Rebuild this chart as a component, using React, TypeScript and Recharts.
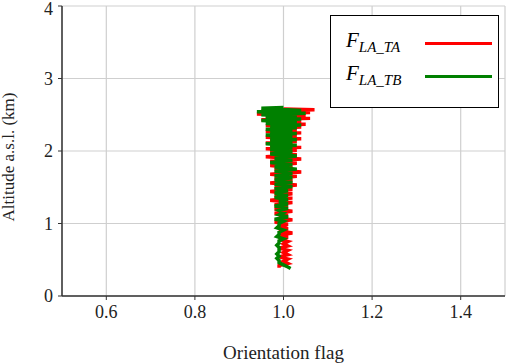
import { ScatterChart, Scatter, XAxis, YAxis, CartesianGrid, Legend } from 'recharts';

const xTicks = [0.6, 0.8, 1.0, 1.2, 1.4];
const yTicks = [0, 1, 2, 3, 4];

// F_LA_TA (red)
const taAltitude = [
  2.58, 2.57, 2.55, 2.53, 2.51, 2.49, 2.47, 2.45, 2.43, 2.41, 2.39, 2.37, 2.35, 2.33, 2.31,
  2.29, 2.27, 2.25, 2.23, 2.21, 2.19, 2.17, 2.15, 2.13, 2.11, 2.09, 2.07, 2.05, 2.03, 2.01,
  1.98, 1.95, 1.92, 1.89, 1.86, 1.83, 1.8, 1.77, 1.74, 1.71, 1.68, 1.65, 1.62, 1.59, 1.56,
  1.53, 1.5, 1.47, 1.44, 1.41,
  1.38, 1.35, 1.32, 1.29, 1.26, 1.23, 1.2, 1.17, 1.14, 1.11, 1.08, 1.05, 1.02, 0.99,
  0.96, 0.93, 0.9, 0.87, 0.84, 0.81, 0.78, 0.75, 0.72, 0.69, 0.66, 0.63, 0.6, 0.57, 0.54,
  0.51, 0.48, 0.45, 0.42, 0.39,
];
const taFlag = [
  1.0, 1.07, 0.95, 1.06, 0.94, 1.05, 0.96, 1.06, 0.95, 1.04, 0.97, 1.05, 0.96, 1.04, 0.97,
  1.03, 0.96, 1.04, 0.97, 1.03, 0.96, 1.04, 0.97, 1.03, 0.96, 1.02, 0.97, 1.04, 0.96, 1.03,
  0.97, 1.03, 0.96, 1.04, 0.97, 1.03, 0.97, 1.02, 0.98, 1.04, 0.97, 1.03, 0.98, 1.02, 0.97,
  1.03, 0.98, 1.02, 0.97, 1.02,
  0.98, 1.02, 0.97, 1.02, 0.98, 1.01, 0.98, 1.02, 0.98, 1.01, 0.99, 1.02, 0.98, 1.01,
  0.99, 1.01, 0.99, 1.02, 0.99, 1.01, 0.99, 1.01, 1.0, 1.01, 0.99, 1.01, 1.0, 1.01, 0.99,
  1.01, 1.0, 1.01, 0.99, 0.99,
];

// F_LA_TB (green)
const tbAltitude = [
  2.6, 2.59, 2.56, 2.54, 2.52, 2.5, 2.48, 2.46, 2.44, 2.42, 2.4, 2.38, 2.36, 2.34, 2.32,
  2.3, 2.28, 2.26, 2.24, 2.22, 2.2, 2.18, 2.16, 2.14, 2.12, 2.1, 2.08, 2.06, 2.04, 2.02,
  1.99, 1.96, 1.93, 1.9, 1.87, 1.84, 1.81, 1.78, 1.75, 1.72, 1.69, 1.66, 1.63, 1.6, 1.57,
  1.54, 1.51, 1.48, 1.45, 1.42,
  1.39, 1.36, 1.33, 1.3, 1.27, 1.24, 1.21, 1.18, 1.15, 1.12, 1.09, 1.06, 1.03, 1.0,
  0.97, 0.94, 0.91, 0.88, 0.85, 0.82, 0.79, 0.76, 0.73, 0.7, 0.67, 0.64, 0.61, 0.58, 0.55,
  0.52, 0.49, 0.46, 0.43, 0.4, 0.38,
];
const tbFlag = [
  1.0, 0.95, 1.04, 0.94, 1.05, 0.95, 1.03, 0.96, 1.04, 0.95, 1.03, 0.96, 1.04, 0.97, 1.03,
  0.96, 1.02, 0.97, 1.03, 0.96, 1.02, 0.97, 1.03, 0.97, 1.02, 0.96, 1.03, 0.97, 1.02, 0.97,
  1.02, 0.97, 1.03, 0.98, 1.02, 0.97, 1.02, 0.98, 1.03, 0.98, 1.02, 0.98, 1.02, 0.98, 1.02,
  0.98, 1.02, 0.98, 1.01, 0.98,
  1.01, 0.98, 1.01, 0.99, 1.01, 0.98, 1.01, 0.99, 1.0, 0.99, 1.01, 0.98, 1.0, 0.99,
  0.99, 0.985, 1.0, 0.99, 0.99, 0.985, 1.0, 0.99, 0.99, 0.985, 0.99, 0.99, 0.99, 0.985, 0.99,
  0.985, 0.99, 0.99, 1.0, 1.01, 1.016,
];

const taData = taAltitude.map((alt, i) => ({ alt, flag: taFlag[i] }));
const tbData = tbAltitude.map((alt, i) => ({ alt, flag: tbFlag[i] }));

const font = 'Liberation Serif';
const textColor = '#222';

const legendItems = [
  { sub: 'LA_TA', color: '#ff0000' },
  { sub: 'LA_TB', color: '#008000' },
];

function LegendBox() {
  return (
    <div
      style={{
        width: 169,
        height: 93,
        border: '1.5px solid #000',
        background: '#fff',
        boxSizing: 'border-box',
        paddingTop: 11,
      }}
    >
      {legendItems.map((it) => (
        <div key={it.sub} style={{ display: 'flex', alignItems: 'center', height: 33 }}>
          <span style={{ fontFamily: font, fontStyle: 'italic', fontSize: 21, width: 79, paddingLeft: 15, color: '#000', lineHeight: '24px' }}>
            F<sub style={{ fontSize: 15 }}>{it.sub}</sub>
          </span>
          <span style={{ display: 'inline-block', width: 67, height: 3, background: it.color }} />
        </div>
      ))}
    </div>
  );
}

const XTick = (props: any) => (
  <text x={props.x} y={props.y} dy="0.75em" textAnchor="middle" fontFamily={font} fontSize={18} fill={textColor}>
    {Number(props.payload.value).toFixed(1)}
  </text>
);

const YTick = (props: any) => (
  <text x={props.x} y={props.y} dy="0.35em" textAnchor="end" fontFamily={font} fontSize={18} fill={textColor}>
    {props.payload.value}
  </text>
);

const XLabel = (props: any) => {
  const vb = props.viewBox;
  return (
    <text x={vb.x + vb.width / 2} y={359} textAnchor="middle" fontFamily={font} fontSize={19} fill={textColor}>
      Orientation flag
    </text>
  );
};

const YLabel = (props: any) => {
  const vb = props.viewBox;
  const cy = vb.y + vb.height / 2 + 6;
  return (
    <text x={14} y={cy} transform={`rotate(-90 14 ${cy})`} textAnchor="middle" fontFamily={font} fontSize={17} fill={textColor}>
      Altitude a.s.l. (km)
    </text>
  );
};

const noDot = () => <g />;

export default function App() {
  return (
    <div style={{ position: 'absolute', left: 0, top: 0, background: '#fff' }}>
      <ScatterChart width={509} height={364} margin={{ top: 6, right: 4, left: 0, bottom: 0 }}>
        <CartesianGrid stroke="#cfcfcf" strokeWidth={1.2} />
        <XAxis
          xAxisId="top"
          orientation="top"
          type="number"
          dataKey="flag"
          domain={[0.5, 1.5]}
          height={0}
          tick={false}
          tickLine={false}
          axisLine={{ stroke: '#333', strokeWidth: 1.5 }}
        />
        <YAxis
          yAxisId="right"
          orientation="right"
          type="number"
          dataKey="alt"
          domain={[0, 4]}
          width={0}
          tick={false}
          tickLine={false}
          axisLine={{ stroke: '#333', strokeWidth: 1.5 }}
        />
        <XAxis
          type="number"
          dataKey="flag"
          domain={[0.5, 1.5]}
          ticks={xTicks}
          height={68}
          tick={XTick}
          tickSize={4}
          tickMargin={4}
          stroke="#333"
          axisLine={{ stroke: '#333', strokeWidth: 1.5 }}
          label={{ content: XLabel }}
        />
        <YAxis
          type="number"
          dataKey="alt"
          domain={[0, 4]}
          ticks={yTicks}
          width={62}
          tick={YTick}
          tickSize={4}
          tickMargin={5}
          stroke="#333"
          axisLine={{ stroke: '#333', strokeWidth: 1.5 }}
          label={{ content: YLabel }}
        />
        <Scatter
          name="F_LA_TA"
          data={taData}
          shape={noDot}
          line={{ stroke: '#ff0000', strokeWidth: 3.5 }}
          isAnimationActive={false}
        />
        <Scatter
          name="F_LA_TB"
          data={tbData}
          shape={noDot}
          line={{ stroke: '#008000', strokeWidth: 3.5 }}
          isAnimationActive={false}
        />
        <Legend
          content={() => <LegendBox />}
          layout="vertical"
          verticalAlign="middle"
          align="center"
          wrapperStyle={{ top: 15, left: 330, width: 169 }}
        />
      </ScatterChart>
    </div>
  );
}
